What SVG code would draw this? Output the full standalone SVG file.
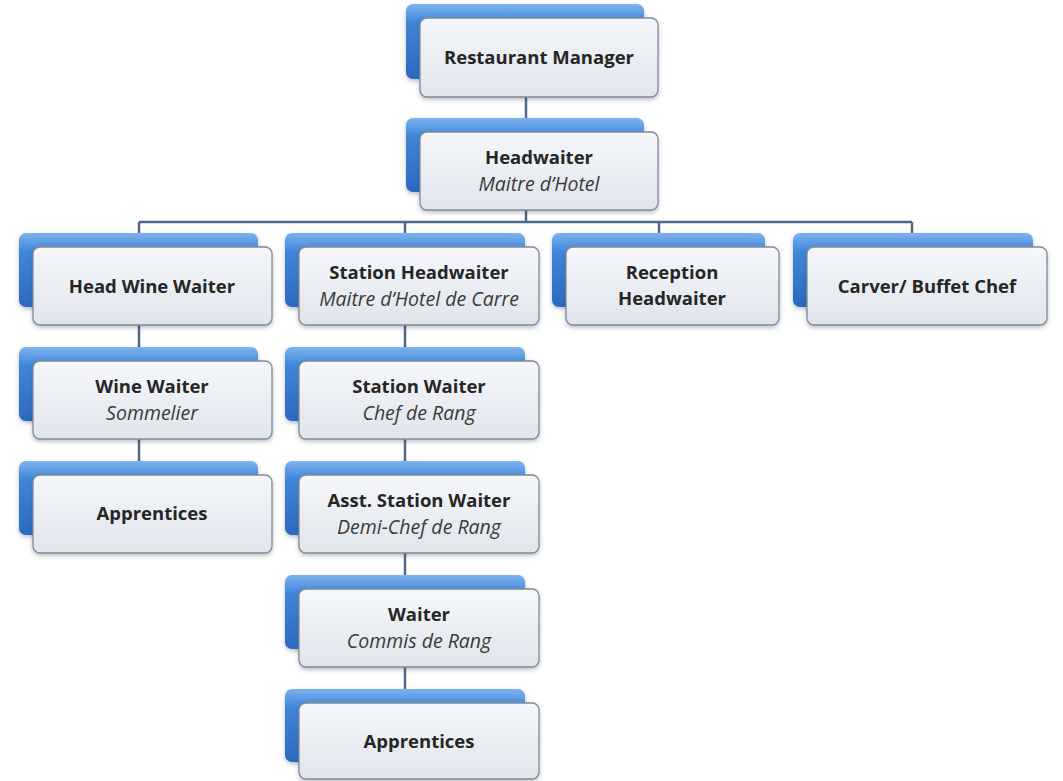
<svg xmlns="http://www.w3.org/2000/svg" width="1063" height="781" viewBox="0 0 1063 781">
<defs>
<linearGradient id="gBlue" x1="0" y1="0" x2="0" y2="1">
<stop offset="0" stop-color="#7db3ee"/>
<stop offset="0.25" stop-color="#3f86da"/>
<stop offset="1" stop-color="#2b69c0"/>
</linearGradient>
<linearGradient id="gFace" x1="0" y1="0" x2="0" y2="1">
<stop offset="0" stop-color="#f5f7fb"/>
<stop offset="1" stop-color="#e0e5ec"/>
</linearGradient>
<filter id="sh" x="-10%" y="-10%" width="120%" height="130%">
<feDropShadow dx="0" dy="2" stdDeviation="2" flood-color="#3a4a5a" flood-opacity="0.35"/>
</filter>
<style>
.back{fill:url(#gBlue);filter:url(#sh)}
.face{fill:url(#gFace);stroke:#7f8b99;stroke-width:1.3;filter:url(#sh)}
.t{font-family:"Open Sans","Liberation Sans",sans-serif;font-size:18.5px;font-weight:bold;fill:#262626;text-anchor:middle}
.i{font-family:"Open Sans","Liberation Sans",sans-serif;font-size:19.5px;font-style:italic;fill:#3a3a3a;text-anchor:middle}
.c{stroke:#4d6a8a;stroke-width:2.5;fill:none}
</style>
</defs>
<rect width="1063" height="781" fill="#fff"/>
<g id="connectors" class="c">
<line x1="526" y1="88" x2="526" y2="126"/>
<line x1="526" y1="200" x2="526" y2="222"/>
<line x1="139" y1="222" x2="912" y2="222"/>
<line x1="139" y1="222" x2="139" y2="240"/>
<line x1="405" y1="222" x2="405" y2="240"/>
<line x1="659" y1="222" x2="659" y2="240"/>
<line x1="912" y1="222" x2="912" y2="240"/>
<line x1="139" y1="318" x2="139" y2="468"/>
<line x1="405" y1="318" x2="405" y2="696"/>
</g>
<g id="restaurant-manager">
<rect class="back" x="406" y="4" width="238" height="75" rx="7"/>
<rect class="face" x="420" y="18" width="238" height="79" rx="7"/>
<text class="t" x="539" y="64">Restaurant Manager</text>
</g>
<g id="headwaiter">
<rect class="back" x="406" y="118" width="238" height="74" rx="7"/>
<rect class="face" x="420" y="132" width="238" height="78" rx="7"/>
<text class="t" x="539" y="164">Headwaiter</text>
<text class="i" x="539" y="191">Maitre d’Hotel</text>
</g>
<g id="head-wine-waiter">
<rect class="back" x="19" y="233" width="239" height="74" rx="7"/>
<rect class="face" x="33" y="247" width="239" height="78" rx="7"/>
<text class="t" x="152" y="293">Head Wine Waiter</text>
</g>
<g id="station-headwaiter">
<rect class="back" x="285" y="233" width="240" height="74" rx="7"/>
<rect class="face" x="299" y="247" width="240" height="78" rx="7"/>
<text class="t" x="419" y="279">Station Headwaiter</text>
<text class="i" x="419" y="306">Maitre d’Hotel de Carre</text>
</g>
<g id="reception-headwaiter">
<rect class="back" x="552" y="233" width="213" height="74" rx="7"/>
<rect class="face" x="566" y="247" width="213" height="78" rx="7"/>
<text class="t" x="672" y="279">Reception</text>
<text class="t" x="672" y="305">Headwaiter</text>
</g>
<g id="carver-buffet-chef">
<rect class="back" x="793" y="233" width="240" height="74" rx="7"/>
<rect class="face" x="807" y="247" width="240" height="78" rx="7"/>
<text class="t" x="927" y="293">Carver/ Buffet Chef</text>
</g>
<g id="wine-waiter">
<rect class="back" x="19" y="347" width="239" height="74" rx="7"/>
<rect class="face" x="33" y="361" width="239" height="78" rx="7"/>
<text class="t" x="152" y="393">Wine Waiter</text>
<text class="i" x="152" y="420">Sommelier</text>
</g>
<g id="station-waiter">
<rect class="back" x="285" y="347" width="240" height="74" rx="7"/>
<rect class="face" x="299" y="361" width="240" height="78" rx="7"/>
<text class="t" x="419" y="393">Station Waiter</text>
<text class="i" x="419" y="420">Chef de Rang</text>
</g>
<g id="apprentices-wine">
<rect class="back" x="19" y="461" width="239" height="74" rx="7"/>
<rect class="face" x="33" y="475" width="239" height="78" rx="7"/>
<text class="t" x="152" y="520">Apprentices</text>
</g>
<g id="asst-station-waiter">
<rect class="back" x="285" y="461" width="240" height="74" rx="7"/>
<rect class="face" x="299" y="475" width="240" height="78" rx="7"/>
<text class="t" x="419" y="507">Asst. Station Waiter</text>
<text class="i" x="419" y="534">Demi-Chef de Rang</text>
</g>
<g id="waiter">
<rect class="back" x="285" y="575" width="240" height="74" rx="7"/>
<rect class="face" x="299" y="589" width="240" height="78" rx="7"/>
<text class="t" x="419" y="621">Waiter</text>
<text class="i" x="419" y="648">Commis de Rang</text>
</g>
<g id="apprentices-station">
<rect class="back" x="285" y="689" width="240" height="73" rx="7"/>
<rect class="face" x="299" y="703" width="240" height="76" rx="7"/>
<text class="t" x="419" y="748">Apprentices</text>
</g>
</svg>
